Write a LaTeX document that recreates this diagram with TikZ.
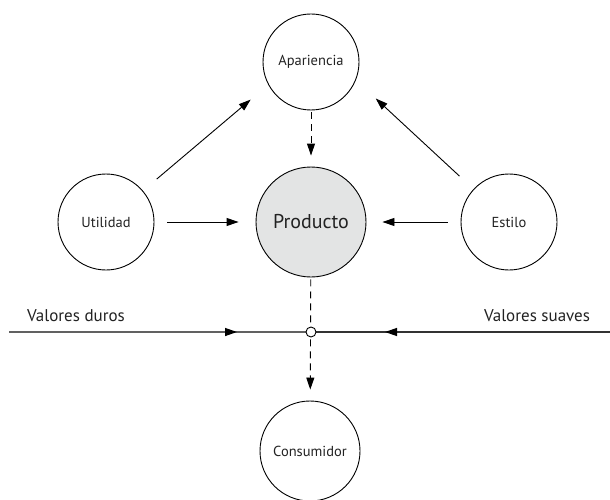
\documentclass[tikz,border=0pt]{standalone}
\usepackage{fontspec}
\setmainfont{PT Sans}
\usetikzlibrary{arrows.meta,decorations.markings}
\definecolor{prodfill}{HTML}{E3E4E4}
\definecolor{txt}{HTML}{222222}
\tikzset{
  circ/.style={draw=black, line width=0.9pt, circle, inner sep=0pt, minimum size=96pt, font=\fontsize{14.5}{17}\selectfont, text=txt},
  prodcirc/.style={circ, minimum size=110pt, fill=prodfill, font=\fontsize{20}{24}\selectfont},
  arr/.style={line width=0.9pt, -{Triangle[length=12pt,width=8pt]}},
  darr/.style={arr, dash pattern=on 7pt off 5pt},
  junction/.style={draw=black, line width=0.9pt, circle, fill=white, inner sep=0pt, minimum size=10pt},
  lbl/.style={font=\fontsize{17}{20}\selectfont, text=txt, inner sep=0pt},
  hmark/.style={decoration={markings, mark=at position #1 with {\arrow[black]{Triangle[length=12pt,width=8pt]}}}, postaction=decorate}
}
\begin{document}
\begin{tikzpicture}[x=1pt,y=-1pt]
\useasboundingbox (0,0) rectangle (610,500);
\node[circ] (apar) at (311,62) {Apariencia};
\node[prodcirc] (prod) at (311,222) {Producto};
\node[circ] (util) at (106,222) {Utilidad};
\node[circ] (est) at (509,222) {Estilo};
\node[circ, minimum size=100pt] (cons) at (310,451) {Consumidor};
\coordinate (jc) at (311,332);
\coordinate (L) at (9,332);
\coordinate (R) at (610,332);
\node[lbl] (vd) at (76,316) {Valores duros};
\node[lbl] (vs) at (537,316) {Valores suaves};
% arrows
\draw[arr, shorten <=13pt, shorten >=17pt] (util) -- (prod);
\draw[arr, shorten <=13pt, shorten >=16pt] (est) -- (prod);
\draw[arr, shorten <=18pt, shorten >=23pt] (util) -- (apar.208);
\draw[arr, shorten <=19pt, shorten >=27pt] (est) -- (apar.-22);
\draw[darr, shorten <=2pt, shorten >=11pt] (apar) -- (prod);
\draw[darr, shorten <=2pt, shorten >=11pt] (prod) -- (cons);
\draw[line width=1.3pt, draw=black!62, hmark=228pt] (L) -- (jc);
\draw[line width=1.3pt, draw=black!80, hmark=225pt] (R) -- (jc);
\node[junction] (j) at (jc) {};
\end{tikzpicture}
\end{document}
